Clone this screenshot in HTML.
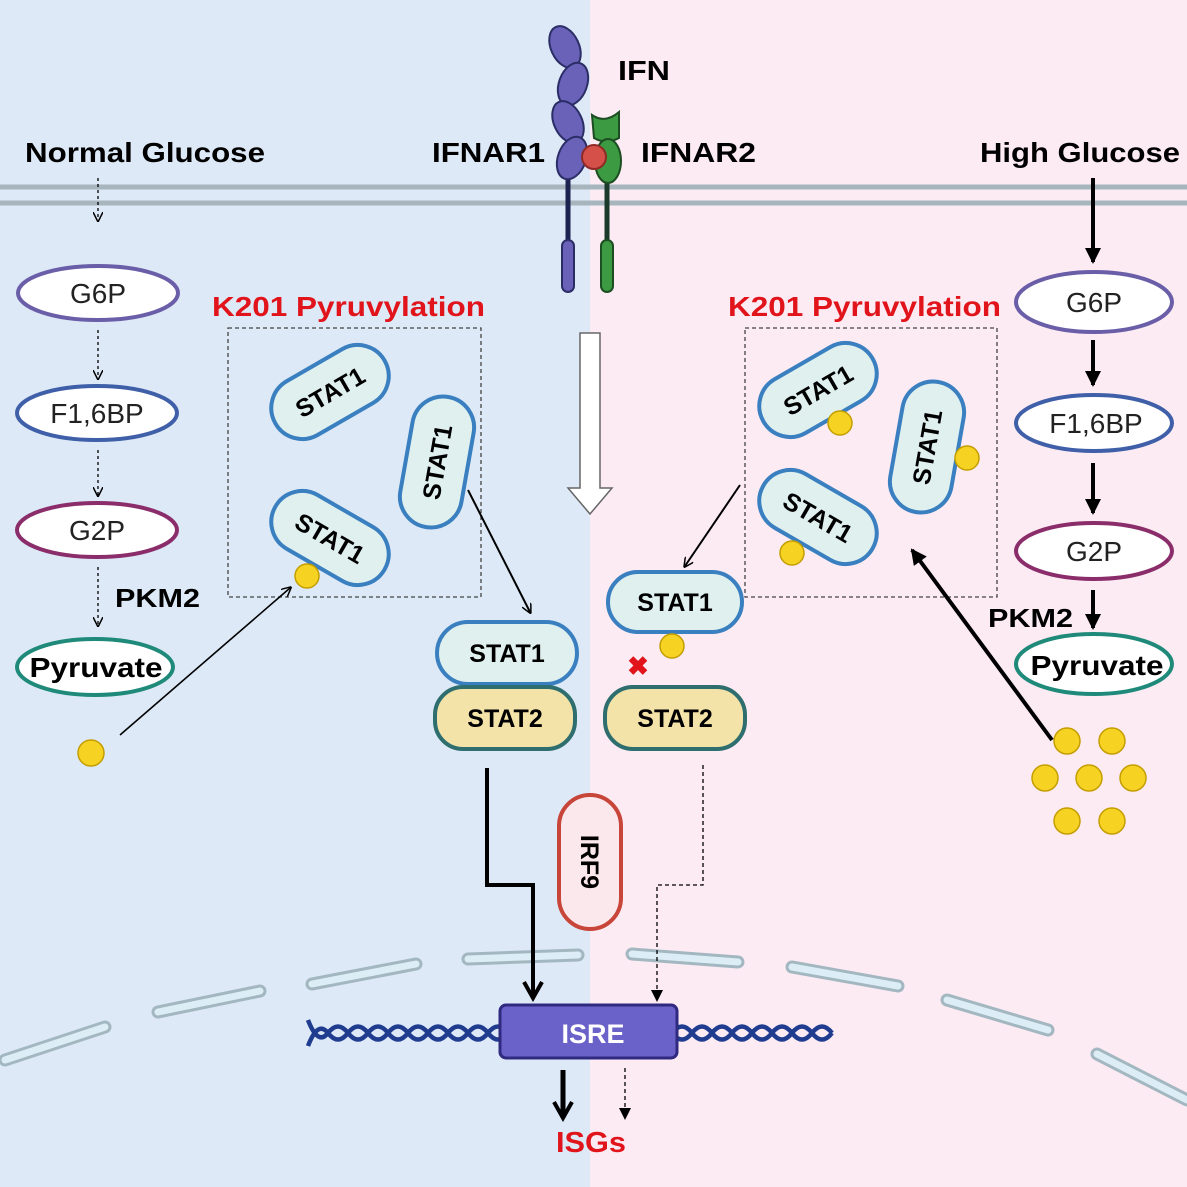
<!DOCTYPE html>
<html><head><meta charset="utf-8"><style>
html,body{margin:0;padding:0;background:#fff}
svg{display:block}
text{font-family:"Liberation Sans",Arial,sans-serif}
</style></head><body>
<svg width="1187" height="1187" viewBox="0 0 1187 1187" xmlns="http://www.w3.org/2000/svg">
<defs>
<marker id="ah" markerWidth="10" markerHeight="10" refX="8" refY="5" orient="auto" markerUnits="userSpaceOnUse"><path d="M0,0 L10,5 L0,10" fill="none" stroke="#000" stroke-width="1.5"/></marker>
<marker id="ahb" markerWidth="22" markerHeight="22" refX="18" refY="11" orient="auto" markerUnits="userSpaceOnUse"><path d="M2,2 L18,11 L2,20" fill="none" stroke="#000" stroke-width="4"/></marker>
<marker id="ahf" markerWidth="16" markerHeight="16" refX="14" refY="8" orient="auto" markerUnits="userSpaceOnUse"><path d="M0,0 L16,8 L0,16 Z" fill="#000"/></marker>
<marker id="ahs" markerWidth="12" markerHeight="12" refX="10" refY="6" orient="auto" markerUnits="userSpaceOnUse"><path d="M0,0 L12,6 L0,12 Z" fill="#000"/></marker>
</defs>
<rect x="0" y="0" width="590" height="1187" fill="#dde9f7"/>
<rect x="590" y="0" width="597" height="1187" fill="#fdebf4"/>
<line x1="0" y1="187" x2="1187" y2="187" stroke="#a7b5bd" stroke-width="5"/>
<line x1="0" y1="203" x2="1187" y2="203" stroke="#a7b5bd" stroke-width="5"/>
<g stroke-linecap="round" fill="none">
<g stroke="#a3b7c1" stroke-width="13">
<line x1="5" y1="1060" x2="105" y2="1027"/><line x1="158" y1="1012" x2="260" y2="991"/><line x1="312" y1="984" x2="416" y2="964"/><line x1="468" y1="959" x2="578" y2="955"/><line x1="632" y1="954" x2="738" y2="962"/><line x1="792" y1="967" x2="898" y2="986"/><line x1="947" y1="1000" x2="1048" y2="1030"/><line x1="1097" y1="1054" x2="1187" y2="1100"/>
</g>
<g stroke="#dcedf5" stroke-width="7">
<line x1="5" y1="1060" x2="105" y2="1027"/><line x1="158" y1="1012" x2="260" y2="991"/><line x1="312" y1="984" x2="416" y2="964"/><line x1="468" y1="959" x2="578" y2="955"/><line x1="632" y1="954" x2="738" y2="962"/><line x1="792" y1="967" x2="898" y2="986"/><line x1="947" y1="1000" x2="1048" y2="1030"/><line x1="1097" y1="1054" x2="1187" y2="1100"/>
</g>
</g>
<line x1="568" y1="175" x2="568" y2="245" stroke="#1c2350" stroke-width="5"/>
<rect x="562" y="240" width="12" height="52" rx="6" fill="#6a62b8" stroke="#2b2d66" stroke-width="2"/>
<line x1="607" y1="175" x2="607" y2="245" stroke="#1c3a2a" stroke-width="5"/>
<rect x="601" y="240" width="12" height="52" rx="6" fill="#3c9a42" stroke="#1d4d22" stroke-width="2"/>
<g fill="#6a62b8" stroke="#2b2d66" stroke-width="2">
<ellipse cx="565" cy="47" rx="14" ry="22" transform="rotate(-25 565 47)"/>
<ellipse cx="573" cy="84" rx="14" ry="22" transform="rotate(20 573 84)"/>
<ellipse cx="568" cy="122" rx="14" ry="22" transform="rotate(-25 568 122)"/>
<ellipse cx="572" cy="158" rx="14" ry="22" transform="rotate(20 572 158)"/>
</g>
<path d="M592,115 Q605,124 619,112 L619,138 Q606,145 594,138 Z" fill="#3c9a42" stroke="#1d4d22" stroke-width="2"/>
<ellipse cx="608" cy="161" rx="13" ry="22" fill="#3c9a42" stroke="#1d4d22" stroke-width="2"/>
<circle cx="594" cy="157" r="12" fill="#d6504a" stroke="#902a26" stroke-width="2"/>
<g font-size="28" font-weight="bold">
<text x="618" y="80" textLength="52" lengthAdjust="spacingAndGlyphs">IFN</text>
<text x="432" y="162" textLength="113" lengthAdjust="spacingAndGlyphs">IFNAR1</text>
<text x="641" y="162" textLength="115" lengthAdjust="spacingAndGlyphs">IFNAR2</text>
<text x="25" y="162" textLength="240" lengthAdjust="spacingAndGlyphs">Normal Glucose</text>
<text x="980" y="162" textLength="200" lengthAdjust="spacingAndGlyphs">High Glucose</text>
</g>
<g fill="#fff" stroke-width="4">
<ellipse cx="98" cy="293" rx="80" ry="27" stroke="#6a5ea8"/>
<ellipse cx="97" cy="413" rx="80" ry="27" stroke="#3f5fa8"/>
<ellipse cx="97" cy="530" rx="80" ry="27" stroke="#8a2d6a"/>
<ellipse cx="95" cy="667" rx="78" ry="28" stroke="#1f8a7a"/>
<ellipse cx="1094" cy="302" rx="78" ry="30" stroke="#6a5ea8"/>
<ellipse cx="1094" cy="423" rx="78" ry="28" stroke="#3f5fa8"/>
<ellipse cx="1094" cy="551" rx="78" ry="28" stroke="#8a2d6a"/>
<ellipse cx="1094" cy="664" rx="78" ry="30" stroke="#1f8a7a"/>
</g>
<g font-size="28" text-anchor="middle" fill="#222">
<text x="98" y="303">G6P</text><text x="97" y="423">F1,6BP</text><text x="97" y="540">G2P</text>
<text x="96" y="677" font-weight="bold" fill="#000" textLength="133" lengthAdjust="spacingAndGlyphs">Pyruvate</text>
<text x="1094" y="312">G6P</text><text x="1096" y="433">F1,6BP</text><text x="1094" y="561">G2P</text>
<text x="1097" y="675" font-weight="bold" fill="#000" textLength="133" lengthAdjust="spacingAndGlyphs">Pyruvate</text>
</g>
<g stroke="#000" stroke-width="1.3" stroke-dasharray="3,3" fill="none" marker-end="url(#ah)">
<line x1="98" y1="178" x2="98" y2="220"/><line x1="98" y1="330" x2="98" y2="378"/><line x1="98" y1="450" x2="98" y2="495"/><line x1="98" y1="567" x2="98" y2="625"/>
</g>
<g stroke="#000" stroke-width="4" marker-end="url(#ahf)">
<line x1="1093" y1="178" x2="1093" y2="262"/><line x1="1093" y1="340" x2="1093" y2="385"/><line x1="1093" y1="463" x2="1093" y2="513"/><line x1="1093" y1="590" x2="1093" y2="628"/>
</g>
<text x="115" y="607" font-size="26" font-weight="bold" textLength="85" lengthAdjust="spacingAndGlyphs">PKM2</text>
<text x="988" y="627" font-size="26" font-weight="bold" textLength="85" lengthAdjust="spacingAndGlyphs">PKM2</text>
<rect x="228" y="328" width="253" height="269" fill="none" stroke="#444" stroke-width="1.3" stroke-dasharray="4,3"/>
<rect x="745" y="328" width="252" height="269" fill="none" stroke="#444" stroke-width="1.3" stroke-dasharray="4,3"/>
<text x="212" y="316" font-size="28" font-weight="bold" fill="#e0141a" textLength="273" lengthAdjust="spacingAndGlyphs">K201 Pyruvylation</text>
<text x="728" y="316" font-size="28" font-weight="bold" fill="#e0141a" textLength="273" lengthAdjust="spacingAndGlyphs">K201 Pyruvylation</text>
<g font-size="25" font-weight="bold" text-anchor="middle">
<g transform="translate(330,392) rotate(-30)"><rect x="-63" y="-31" width="126" height="62" rx="31" fill="#dff0ef" stroke="#3a7fbf" stroke-width="4"/><text y="9">STAT1</text></g>
<g transform="translate(437,462) rotate(-80)"><rect x="-66" y="-31" width="132" height="62" rx="31" fill="#dff0ef" stroke="#3a7fbf" stroke-width="4"/><text y="9">STAT1</text></g>
<g transform="translate(330,538) rotate(30)"><rect x="-63" y="-31" width="126" height="62" rx="31" fill="#dff0ef" stroke="#3a7fbf" stroke-width="4"/><text y="9">STAT1</text></g>
<g transform="translate(818,390) rotate(-30)"><rect x="-63" y="-31" width="126" height="62" rx="31" fill="#dff0ef" stroke="#3a7fbf" stroke-width="4"/><text y="9">STAT1</text></g>
<g transform="translate(927,447) rotate(-80)"><rect x="-66" y="-31" width="132" height="62" rx="31" fill="#dff0ef" stroke="#3a7fbf" stroke-width="4"/><text y="9">STAT1</text></g>
<g transform="translate(818,517) rotate(30)"><rect x="-63" y="-31" width="126" height="62" rx="31" fill="#dff0ef" stroke="#3a7fbf" stroke-width="4"/><text y="9">STAT1</text></g>
<g transform="translate(507,653)"><rect x="-70" y="-31" width="140" height="62" rx="31" fill="#dff0ef" stroke="#3a7fbf" stroke-width="4"/><text y="9">STAT1</text></g>
<g transform="translate(505,718)"><rect x="-70" y="-31" width="140" height="62" rx="28" fill="#f3e3a8" stroke="#2e6e6e" stroke-width="4"/><text y="9">STAT2</text></g>
<g transform="translate(675,602)"><rect x="-67" y="-30" width="134" height="60" rx="30" fill="#dff0ef" stroke="#3a7fbf" stroke-width="4"/><text y="9">STAT1</text></g>
<g transform="translate(675,718)"><rect x="-70" y="-31" width="140" height="62" rx="28" fill="#f3e3a8" stroke="#2e6e6e" stroke-width="4"/><text y="9">STAT2</text></g>
<g transform="translate(590,862) rotate(90)"><rect x="-67" y="-31" width="134" height="62" rx="31" fill="#fbe8ec" stroke="#c8453a" stroke-width="4"/><text y="9">IRF9</text></g>
</g>
<g fill="#f6d322" stroke="#c49e00" stroke-width="1.5">
<circle cx="307" cy="576" r="12"/><circle cx="840" cy="423" r="12"/><circle cx="967" cy="458" r="12"/><circle cx="792" cy="553" r="12"/><circle cx="672" cy="646" r="12"/><circle cx="91" cy="753" r="13"/>
<circle cx="1067" cy="741" r="13"/><circle cx="1112" cy="741" r="13"/><circle cx="1045" cy="778" r="13"/><circle cx="1089" cy="778" r="13"/><circle cx="1133" cy="778" r="13"/><circle cx="1067" cy="821" r="13"/><circle cx="1112" cy="821" r="13"/>
</g>
<text x="638" y="675" font-size="26" font-weight="bold" fill="#e0141a" text-anchor="middle">✖</text>
<line x1="120" y1="735" x2="290" y2="588" stroke="#000" stroke-width="1.6" marker-end="url(#ah)"/>
<line x1="468" y1="490" x2="530" y2="612" stroke="#000" stroke-width="2" marker-end="url(#ah)"/>
<line x1="740" y1="485" x2="685" y2="566" stroke="#000" stroke-width="2" marker-end="url(#ah)"/>
<line x1="1052" y1="740" x2="912" y2="550" stroke="#000" stroke-width="4" marker-end="url(#ahf)"/>
<path d="M580,333 H600 V488 H612 L590,514 L568,488 H580 Z" fill="#fff" stroke="#666" stroke-width="1.5"/>
<path d="M487,768 V885 H533 V998" fill="none" stroke="#000" stroke-width="4" marker-end="url(#ahb)"/>
<path d="M703,765 V885 H657 V1000" fill="none" stroke="#000" stroke-width="1.3" stroke-dasharray="4,3" marker-end="url(#ahs)"/>
<g fill="none" stroke="#1f3c8f" stroke-width="4.5">
<path d="M308,1020 Q318,1046 328,1033 T348,1033 T368,1033 T388,1033 T408,1033 T428,1033 T448,1033 T468,1033 T488,1033 T508,1033"/>
<path d="M308,1046 Q318,1020 328,1033 T348,1033 T368,1033 T388,1033 T408,1033 T428,1033 T448,1033 T468,1033 T488,1033 T508,1033"/>
<path d="M672,1033 Q682,1020 692,1033 T712,1033 T732,1033 T752,1033 T772,1033 T792,1033 T812,1033 T832,1033"/>
<path d="M672,1033 Q682,1046 692,1033 T712,1033 T732,1033 T752,1033 T772,1033 T792,1033 T812,1033 T832,1033"/>
</g>
<rect x="500" y="1005" width="177" height="53" rx="6" fill="#6a62c8" stroke="#2f2a80" stroke-width="3"/>
<text x="593" y="1043" font-size="27" font-weight="bold" fill="#fff" text-anchor="middle">ISRE</text>
<line x1="563" y1="1070" x2="563" y2="1118" stroke="#000" stroke-width="5" marker-end="url(#ahb)"/>
<line x1="625" y1="1068" x2="625" y2="1118" stroke="#000" stroke-width="1.3" stroke-dasharray="4,3" marker-end="url(#ahs)"/>
<text x="556" y="1152" font-size="29" font-weight="bold" fill="#e0141a" textLength="70" lengthAdjust="spacingAndGlyphs">ISGs</text>
</svg>
</body></html>
